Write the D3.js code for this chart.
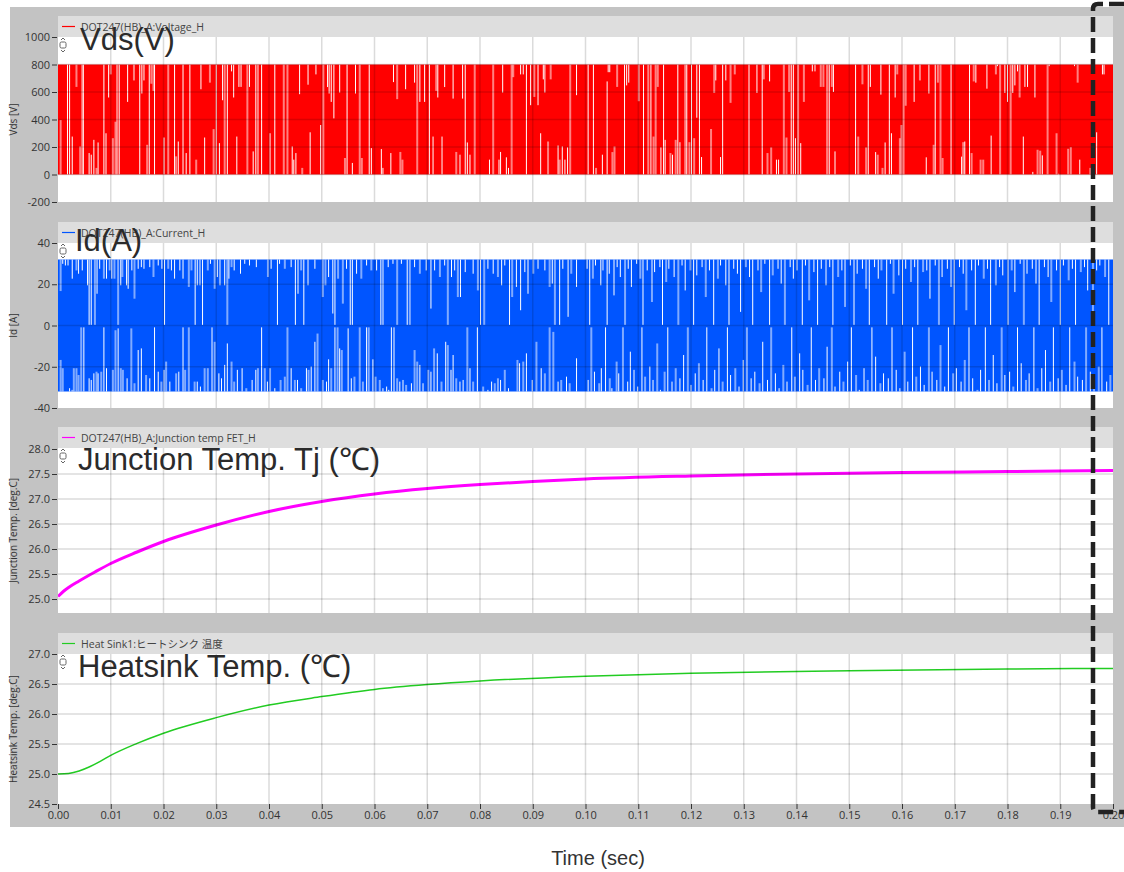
<!DOCTYPE html>
<html><head><meta charset="utf-8">
<script src="https://cdn.jsdelivr.net/npm/d3@7"></script>
<style>body{margin:0;background:#fff}svg{display:block}</style>
</head><body><svg id="c" width="1124" height="872"></svg>
<script>
// ---------------- DATA ----------------
const timeTicks = [0,0.01,0.02,0.03,0.04,0.05,0.06,0.07,0.08,0.09,0.10,0.11,0.12,0.13,0.14,0.15,0.16,0.17,0.18,0.19,0.20];
const vdsTicks = [-200,0,200,400,600,800,1000];
const idTicks = [-40,-20,0,20,40];
const tjTicks = [25.0,25.5,26.0,26.5,27.0,27.5,28.0];
const hsTicks = [24.5,25.0,25.5,26.0,26.5,27.0];

const vdsLevels = [0, 800];      // off / on voltage
const idLevels = [-32, 32];      // negative / positive current peak

// switching gaps: [time, low, high, faint]
const vdsGaps = [
[0.0005,0,396,1],[0.0018,0,800,0],[0.0022,0,800,0],[0.0027,0,276,0],[0.0035,637,800,1],[0.0042,0,204,1],[0.0046,0,800,1],[0.0048,0,800,0],
[0.0059,0,156,0],[0.0063,0,144,0],[0.0068,0,252,0],[0.0073,0,48,1],[0.0076,0,233,0],[0.0087,0,800,0],[0.0091,0,300,0],[0.0096,560,800,0],
[0.0100,728,800,1],[0.0104,0,264,1],[0.0109,0,384,1],[0.0112,0,800,1],[0.0116,0,800,0],[0.0132,528,800,0],[0.0144,684,800,1],[0.0155,0,800,0],
[0.0159,589,800,0],[0.0163,684,800,0],[0.0169,0,216,1],[0.0173,0,800,0],[0.0177,660,800,1],[0.0181,608,800,1],[0.0183,0,800,0],[0.0201,0,269,0],
[0.0209,0,800,1],[0.0221,0,800,0],[0.0224,0,132,1],[0.0228,0,240,0],[0.0237,0,800,0],[0.0243,0,156,0],[0.0250,0,800,0],[0.0262,0,108,1],
[0.0271,620,800,0],[0.0278,0,269,0],[0.0288,668,800,1],[0.0295,0,330,1],[0.0300,0,800,0],[0.0306,0,228,0],[0.0312,540,800,0],[0.0316,0,800,1],
[0.0321,0,800,0],[0.0329,750,800,0],[0.0333,560,800,0],[0.0339,0,276,0],[0.0343,637,800,0],[0.0347,637,800,0],[0.0359,0,800,1],[0.0363,637,800,0],
[0.0370,0,168,0],[0.0375,0,800,0],[0.0379,0,800,1],[0.0386,0,800,0],[0.0402,0,300,0],[0.0411,0,800,0],[0.0428,0,800,1],[0.0435,0,800,1],
[0.0444,0,204,0],[0.0447,0,108,0],[0.0451,0,156,0],[0.0458,584,800,0],[0.0463,0,48,1],[0.0474,653,800,0],[0.0478,0,307,0],[0.0489,728,800,0],
[0.0498,0,360,0],[0.0503,0,800,1],[0.0511,636,800,0],[0.0514,589,800,0],[0.0518,528,800,0],[0.0523,408,800,0],[0.0534,596,800,0],[0.0544,0,120,1],
[0.0548,0,800,0],[0.0558,0,84,0],[0.0564,589,800,0],[0.0572,0,800,1],[0.0576,0,120,1],[0.0590,0,800,0],[0.0594,0,192,0],[0.0613,0,185,0],
[0.0616,0,48,0],[0.0631,0,156,0],[0.0636,672,800,0],[0.0643,548,800,1],[0.0649,0,164,1],[0.0653,0,108,1],[0.0659,620,800,0],[0.0676,668,800,0],
[0.0681,0,800,1],[0.0686,528,800,0],[0.0695,528,800,0],[0.0704,0,800,0],[0.0711,0,276,0],[0.0717,608,800,1],[0.0720,560,800,0],[0.0728,0,276,0],
[0.0733,636,800,0],[0.0749,552,800,0],[0.0755,0,164,1],[0.0762,0,144,1],[0.0767,552,800,0],[0.0772,0,800,0],[0.0776,0,233,0],[0.0781,0,144,0],
[0.0790,0,800,1],[0.0818,0,108,0],[0.0825,0,800,1],[0.0836,0,108,0],[0.0839,0,164,0],[0.0843,596,800,0],[0.0850,0,125,0],[0.0854,0,48,0],
[0.0860,0,800,1],[0.0863,708,800,1],[0.0877,728,800,0],[0.0882,728,800,0],[0.0888,0,800,0],[0.0896,504,800,0],[0.0903,564,800,1],[0.0910,504,800,0],
[0.0915,0,300,0],[0.0920,692,800,0],[0.0923,596,800,0],[0.0929,0,240,1],[0.0934,692,800,1],[0.0948,0,211,0],[0.0951,0,108,1],[0.0956,0,204,0],
[0.0961,0,108,0],[0.0966,0,197,0],[0.0971,0,800,1],[0.0983,577,800,0],
[0.1005,0,800,0],[0.1015,0,800,0],[0.1020,0,48,1],[0.1032,0,144,0],[0.1041,0,677,0],[0.1043,744,800,0],[0.1046,744,800,0],[0.1051,0,163,1],
[0.1055,0,204,1],[0.1060,637,800,1],[0.1074,0,800,0],[0.1078,648,800,0],[0.1082,668,800,0],[0.1101,533,800,1],[0.1110,0,800,0],[0.1119,0,800,1],
[0.1124,0,800,0],[0.1129,0,276,1],[0.1133,0,800,1],[0.1137,637,800,1],[0.1143,0,197,0],[0.1148,0,800,0],[0.1151,0,252,0],[0.1161,0,156,1],
[0.1165,0,144,0],[0.1171,0,252,1],[0.1175,0,800,0],[0.1179,0,235,0],[0.1189,0,800,1],[0.1192,0,800,0],[0.1197,0,235,1],[0.1201,0,800,0],
[0.1206,0,264,1],[0.1211,413,800,0],[0.1216,0,800,0],[0.1220,0,127,0],[0.1238,0,331,1],[0.1244,593,800,1],[0.1247,684,800,0],[0.1256,0,127,0],
[0.1260,0,800,0],[0.1266,684,800,0],[0.1275,521,800,1],[0.1283,728,800,1],[0.1310,0,800,1],[0.1325,593,800,0],[0.1335,0,800,0],[0.1338,692,800,1],
[0.1345,0,156,1],[0.1349,677,800,0],[0.1352,0,197,1],[0.1362,0,108,0],[0.1366,0,108,0],[0.1376,0,800,1],[0.1381,0,269,1],[0.1386,600,800,1],
[0.1390,0,800,0],[0.1394,0,800,0],[0.1398,0,264,0],[0.1403,0,800,1],[0.1408,0,228,0],[0.1414,528,800,1],[0.1430,750,800,0],[0.1435,750,800,1],
[0.1446,637,800,1],[0.1451,637,800,1],[0.1458,0,800,1],[0.1462,0,800,0],[0.1467,637,800,1],[0.1470,600,800,0],[0.1473,0,168,0],[0.1512,0,800,0],
[0.1517,0,276,1],[0.1525,656,800,1],[0.1532,0,197,1],[0.1536,0,800,0],[0.1540,637,800,0],[0.1550,0,163,0],[0.1554,0,144,1],[0.1560,581,800,0],
[0.1563,0,48,1],[0.1568,0,233,0],[0.1576,0,800,0],[0.1580,0,300,0],[0.1587,560,800,0],[0.1591,728,800,1],[0.1596,0,264,1],[0.1599,0,360,1],
[0.1603,0,800,1],[0.1607,500,800,1],[0.1623,528,800,0],[0.1634,684,800,1],[0.1646,0,125,0],[0.1651,589,800,0],[0.1660,0,216,1],[0.1663,0,800,0],
[0.1668,668,800,1],[0.1673,0,800,1],[0.1677,0,120,1],[0.1693,0,800,0],[0.1713,0,130,0],[0.1716,0,235,1],[0.1719,0,240,0],[0.1728,0,800,0],
[0.1732,0,156,1],[0.1736,677,800,1],[0.1740,668,800,0],[0.1749,0,108,1],[0.1754,0,108,1],[0.1761,624,800,0],[0.1769,0,283,0],[0.1778,728,800,1],
[0.1781,788,800,0],[0.1786,0,800,1],[0.1795,593,800,0],[0.1800,528,800,0],[0.1806,0,800,1],[0.1810,593,800,0],[0.1814,648,800,0],[0.1819,750,800,0],
[0.1823,560,800,1],[0.1830,0,276,0],[0.1833,637,800,0],[0.1838,637,800,0],[0.1848,0,19,0],[0.1852,560,800,0],[0.1857,0,180,1],[0.1862,0,173,1],
[0.1866,0,139,0],[0.1876,0,800,1],[0.1879,788,800,0],[0.1893,0,300,1],[0.1897,0,5,0],[0.1915,0,187,1],[0.1920,0,199,1],[0.1927,788,800,0],
[0.1933,668,800,1],[0.1937,0,108,0],[0.1957,0,48,1],[0.1969,0,307,0],[0.1980,728,800,0],[0.1983,728,800,0]
];

const idGaps = [
[0.0005,16.7,32,1],[0.0009,29.9,32,0],[0.0014,29.1,32,0],[0.0019,29.1,32,0],[0.0027,22.7,32,0],[0.0035,26.7,32,1],[0.0039,25.1,32,0],[0.0046,26.7,32,0],
[0.0056,19.5,32,0],[0.0059,0.3,32,0],[0.0063,0.3,32,0],[0.0070,0.3,32,1],[0.0074,15.4,32,0],[0.0079,27.5,32,0],[0.0087,22.7,32,1],[0.0092,22.7,32,0],
[0.0098,26.7,32,1],[0.0102,22.7,32,0],[0.0107,22.7,32,1],[0.0114,0.3,32,1],[0.0119,19.5,32,0],[0.0122,23.5,32,1],[0.0130,19.5,32,0],[0.0133,17.8,32,0],
[0.0140,26.7,32,0],[0.0145,13.0,32,1],[0.0152,27.5,32,0],[0.0158,28.3,32,0],[0.0163,27.5,32,0],[0.0174,28.3,32,0],[0.0181,23.5,32,1],[0.0190,29.1,32,0],
[0.0197,27.5,32,0],[0.0202,0.3,32,0],[0.0209,27.5,32,1],[0.0215,26.7,32,0],[0.0221,22.7,32,0],[0.0231,26.7,32,0],[0.0237,22.7,32,0],[0.0248,18.7,32,1],
[0.0253,26.7,32,1],[0.0260,0.3,32,0],[0.0264,19.5,32,0],[0.0269,19.5,32,1],[0.0274,0.3,32,0],[0.0284,26.7,32,1],[0.0289,29.9,32,0],[0.0297,17.8,32,1],
[0.0302,23.5,32,0],[0.0307,19.5,32,1],[0.0316,19.5,32,0],[0.0321,0.3,32,1],[0.0324,22.7,32,0],[0.0329,28.3,32,1],[0.0334,26.7,32,0],[0.0346,25.1,32,0],
[0.0354,29.9,32,0],[0.0363,29.1,32,0],[0.0376,28.3,32,0],[0.0398,23.5,32,1],[0.0404,27.5,32,0],[0.0416,0.3,32,0],[0.0420,29.9,32,0],[0.0430,27.5,32,1],
[0.0442,28.3,32,0],[0.0450,0.3,32,0],[0.0455,15.4,32,0],[0.0461,26.7,32,1],[0.0466,0.3,32,0],[0.0474,19.5,32,1],[0.0487,27.5,32,0],[0.0502,13.8,32,1],
[0.0507,19.5,32,1],[0.0513,23.5,32,0],[0.0521,5.8,32,0],[0.0525,0.3,32,0],[0.0531,22.7,32,1],[0.0540,10.6,32,1],[0.0547,27.5,32,0],[0.0554,0.3,32,0],
[0.0558,0.3,32,0],[0.0566,25.1,32,0],[0.0575,22.7,32,1],[0.0585,29.1,32,0],[0.0594,26.7,32,1],[0.0604,26.7,32,0],[0.0612,0.3,32,0],[0.0616,0.3,32,1],
[0.0626,28.3,32,0],[0.0635,29.9,32,0],[0.0643,0.3,32,1],[0.0651,29.9,32,0],[0.0662,0.3,32,0],[0.0667,0.3,32,1],[0.0676,28.3,32,0],[0.0686,25.1,32,1],
[0.0698,26.7,32,0],[0.0707,8.2,32,0],[0.0714,26.7,32,0],[0.0724,23.5,32,1],[0.0733,29.1,32,0],[0.0739,0.3,32,1],[0.0746,23.5,32,0],[0.0752,26.7,32,0],
[0.0758,13.8,32,1],[0.0763,13.8,32,0],[0.0772,25.9,32,0],[0.0787,25.1,32,0],[0.0796,17.0,32,1],[0.0801,0.3,32,0],[0.0808,0.3,32,1],[0.0815,27.5,32,0],
[0.0825,25.1,32,0],[0.0834,23.5,32,1],[0.0841,19.5,32,0],[0.0847,29.1,32,0],[0.0856,0.3,32,0],[0.0861,13.8,32,1],[0.0869,18.7,32,0],[0.0877,7.4,32,0],
[0.0885,25.9,32,0],[0.0891,15.4,32,1],[0.0901,25.1,32,1],[0.0910,27.5,32,0],[0.0923,26.7,32,0],[0.0932,18.7,32,1],[0.0937,20.3,32,0],[0.0942,0.3,32,1],
[0.0951,0.3,32,0],[0.0957,27.5,32,0],[0.0967,4.2,32,0],[0.0973,25.1,32,1],[0.0983,18.7,32,0],
[0.1003,27.5,32,0],[0.1008,0.3,32,0],[0.1014,22.7,32,1],[0.1019,29.1,32,0],[0.1029,19.5,32,0],[0.1033,26.7,32,1],[0.1041,0.3,32,0],[0.1045,25.1,32,0],
[0.1054,14.6,32,1],[0.1060,28.3,32,0],[0.1066,23.5,32,0],[0.1075,0.3,32,1],[0.1081,27.5,32,0],[0.1087,18.7,32,0],[0.1097,29.9,32,0],[0.1104,22.7,32,1],
[0.1109,0.3,32,0],[0.1117,26.7,32,0],[0.1126,11.4,32,1],[0.1131,25.9,32,0],[0.1141,28.3,32,0],[0.1146,0.3,32,0],[0.1153,21.1,32,1],[0.1158,27.5,32,0],
[0.1168,23.5,32,0],[0.1176,0.3,32,1],[0.1183,29.1,32,0],[0.1189,17.0,32,0],[0.1199,26.7,32,1],[0.1205,0.3,32,0],[0.1211,24.3,32,0],[0.1221,28.3,32,0],
[0.1228,13.8,32,1],[0.1235,26.7,32,0],[0.1243,0.3,32,0],[0.1251,22.7,32,1],[0.1256,29.1,32,0],[0.1266,19.5,32,0],[0.1272,0.3,32,1],[0.1281,27.5,32,0],
[0.1288,25.1,32,0],[0.1294,6.6,32,0],[0.1304,28.3,32,1],[0.1311,23.5,32,0],[0.1317,0.3,32,0],[0.1327,26.7,32,0],[0.1333,16.2,32,1],[0.1340,29.9,32,0],
[0.1349,0.3,32,0],[0.1355,24.3,32,1],[0.1365,27.5,32,0],[0.1371,20.3,32,0],[0.1378,0.3,32,1],[0.1388,28.3,32,0],[0.1394,22.7,32,0],[0.1401,26.7,32,1],
[0.1411,0.3,32,0],[0.1417,29.1,32,0],[0.1424,12.2,32,1],[0.1433,25.9,32,0],[0.1440,0.3,32,0],[0.1447,27.5,32,0],[0.1456,19.5,32,1],[0.1463,28.3,32,0],
[0.1469,0.3,32,0],[0.1479,23.5,32,1],[0.1486,26.7,32,0],[0.1492,9.0,32,0],[0.1502,29.1,32,0],[0.1509,0.3,32,1],[0.1515,25.1,32,0],[0.1525,27.5,32,0],
[0.1532,17.8,32,1],[0.1538,0.3,32,0],[0.1548,28.3,32,0],[0.1555,22.7,32,0],[0.1561,26.7,32,1],[0.1571,0.3,32,0],[0.1578,29.9,32,0],[0.1584,15.4,32,1],
[0.1594,24.3,32,0],[0.1601,0.3,32,0],[0.1607,27.5,32,0],[0.1617,21.1,32,1],[0.1624,28.3,32,0],[0.1630,0.3,32,0],[0.1640,25.9,32,1],[0.1647,26.7,32,0],
[0.1653,13.0,32,0],[0.1663,29.1,32,0],[0.1670,0.3,32,1],[0.1676,23.5,32,0],[0.1686,27.5,32,0],[0.1693,18.7,32,1],[0.1699,0.3,32,0],[0.1709,28.3,32,0],
[0.1716,25.1,32,0],[0.1722,7.4,32,1],[0.1732,26.7,32,0],[0.1739,0.3,32,0],[0.1745,29.1,32,0],[0.1755,22.7,32,1],[0.1762,27.5,32,0],[0.1768,0.3,32,0],
[0.1778,19.5,32,1],[0.1785,28.3,32,0],[0.1791,24.3,32,0],[0.1801,0.3,32,0],[0.1808,26.7,32,1],[0.1814,16.2,32,0],[0.1824,29.9,32,0],[0.1831,0.3,32,1],
[0.1837,25.1,32,0],[0.1847,27.5,32,0],[0.1854,20.3,32,1],[0.1860,0.3,32,0],[0.1870,28.3,32,0],[0.1877,23.5,32,0],[0.1883,11.4,32,1],[0.1893,26.7,32,0],
[0.1900,0.3,32,0],[0.1906,29.1,32,0],[0.1916,21.9,32,1],[0.1923,27.5,32,0],[0.1929,0.3,32,0],[0.1939,25.9,32,1],[0.1946,28.3,32,0],[0.1952,17.0,32,0],
[0.1962,0.3,32,1],[0.1969,26.7,32,0],[0.1975,29.1,32,0],[0.1985,23.5,32,1],[0.1992,0.3,32,0],
[0.0005,-32,-16.7,1],[0.0009,-32,-20.7,1],[0.0022,-32,-30.4,0],[0.0027,-32,-31.2,1],[0.0030,-32,-20.7,1],[0.0035,-32,-20.7,1],[0.0039,-32,-24.0,1],[0.0044,-32,-0.9,1],
[0.0049,-32,-0.9,0],[0.0059,-32,-25.6,0],[0.0063,-32,-26.4,0],[0.0068,-32,-23.2,0],[0.0073,-32,-22.4,1],[0.0076,-32,-23.2,0],[0.0082,-32,-22.4,1],[0.0087,-32,-0.9,0],
[0.0092,-32,-20.7,0],[0.0104,-32,-21.5,1],[0.0109,-32,-2.3,1],[0.0114,-32,-1.4,0],[0.0119,-32,-20.7,1],[0.0123,-32,-21.5,1],[0.0131,-32,-25.6,0],[0.0139,-32,-1.4,1],
[0.0145,-32,-28.0,1],[0.0152,-32,-11.9,0],[0.0158,-32,-11.1,0],[0.0167,-32,-24.0,1],[0.0174,-32,-25.6,0],[0.0183,-32,-0.9,0],[0.0190,-32,-22.4,0],[0.0196,-32,-27.2,1],
[0.0201,-32,-21.5,0],[0.0205,-32,-17.5,1],[0.0212,-32,-27.2,0],[0.0224,-32,-23.2,1],[0.0229,-32,-22.4,0],[0.0237,-32,-0.9,0],[0.0241,-32,-21.5,1],[0.0248,-32,-0.9,1],
[0.0259,-32,-27.2,1],[0.0264,-32,-27.2,0],[0.0270,-32,-29.6,0],[0.0278,-32,-20.7,1],[0.0284,-32,-20.7,1],[0.0292,-32,-0.9,1],[0.0297,-32,-7.9,1],[0.0305,-32,-23.2,0],
[0.0310,-32,-25.6,0],[0.0316,-32,-19.1,0],[0.0321,-32,-8.7,0],[0.0329,-32,-17.5,1],[0.0334,-32,-27.2,1],[0.0340,-32,-21.5,0],[0.0349,-32,-20.7,0],[0.0357,-32,-30.4,1],
[0.0368,-32,-26.4,0],[0.0375,-32,-21.5,0],[0.0379,-32,-20.7,1],[0.0386,-32,-0.9,0],[0.0392,-32,-20.7,1],[0.0397,-32,-27.2,0],[0.0402,-32,-20.7,1],[0.0411,-32,-30.4,0],
[0.0422,-32,-26.4,1],[0.0430,-32,-24.8,1],[0.0435,-32,-0.9,1],[0.0442,-32,-20.7,0],[0.0449,-32,-26.4,1],[0.0454,-32,-26.4,0],[0.0461,-32,-30.4,1],[0.0471,-32,-20.7,0],
[0.0475,-32,-21.5,1],[0.0480,-32,-19.9,0],[0.0487,-32,-7.9,0],[0.0492,-32,-3.9,1],[0.0502,-32,-26.4,1],[0.0509,-32,-27.2,0],[0.0513,-32,-16.4,0],[0.0518,-32,-20.7,1],
[0.0525,-32,-0.9,0],[0.0530,-32,-0.9,1],[0.0534,-32,-11.1,0],[0.0538,-32,-11.9,1],[0.0550,-32,-1.4,0],[0.0556,-32,-25.6,0],[0.0562,-32,-24.8,1],[0.0572,-32,-0.9,1],
[0.0578,-32,-27.2,1],[0.0585,-32,-0.9,0],[0.0589,-32,-0.9,1],[0.0597,-32,-16.4,0],[0.0602,-32,-24.8,1],[0.0610,-32,-26.4,1],[0.0616,-32,-30.4,0],[0.0623,-32,-29.6,0],
[0.0627,-32,-31.2,0],[0.0632,-32,-0.9,0],[0.0637,-32,-0.9,1],[0.0643,-32,-25.6,1],[0.0648,-32,-27.2,0],[0.0654,-32,-26.4,1],[0.0660,-32,-28.8,1],[0.0670,-32,-28.0,0],
[0.0676,-32,-11.9,1],[0.0681,-32,-17.5,1],[0.0686,-32,-19.1,0],[0.0692,-32,-28.0,0],[0.0702,-32,-21.5,1],[0.0707,-32,-22.4,0],[0.0713,-32,-11.1,1],[0.0719,-32,-13.5,0],
[0.0727,-32,-27.2,1],[0.0735,-32,-7.9,0],[0.0739,-32,-9.5,1],[0.0745,-32,-21.5,1],[0.0749,-32,-14.3,0],[0.0755,-32,-25.6,1],[0.0762,-32,-27.2,0],[0.0768,-32,-26.4,0],
[0.0776,-32,-0.9,1],[0.0781,-32,-20.7,0],[0.0787,-32,-27.2,1],[0.0795,-32,-0.9,0],[0.0806,-32,-29.6,1],[0.0815,-32,-31.2,0],[0.0822,-32,-27.2,0],[0.0828,-32,-28.0,1],
[0.0834,-32,-25.6,1],[0.0839,-32,-26.4,0],[0.0847,-32,-21.5,1],[0.0854,-32,-30.4,0],[0.0871,-32,-16.7,1],[0.0875,-32,-18.3,0],[0.0882,-32,-17.5,1],[0.0888,-32,-13.5,0],
[0.0899,-32,-26.4,0],[0.0907,-32,-7.9,1],[0.0916,-32,-20.7,0],[0.0923,-32,-23.2,1],[0.0932,-32,-0.9,1],[0.0939,-32,-3.1,1],[0.0948,-32,-27.2,0],[0.0954,-32,-26.4,1],
[0.0964,-32,-24.8,0],[0.0970,-32,-28.0,1],[0.0983,-32,-15.9,0],
[0.1005,-32,-26.4,0],[0.1011,-32,-0.9,1],[0.1017,-32,-22.4,0],[0.1026,-32,-28.0,1],[0.1030,-32,-20.7,0],[0.1038,-32,-0.9,0],[0.1046,-32,-25.6,1],[0.1050,-32,-30.4,0],
[0.1059,-32,-17.5,1],[0.1063,-32,-23.2,0],[0.1071,-32,-0.9,1],[0.1080,-32,-27.2,0],[0.1085,-32,-12.7,0],[0.1092,-32,-21.5,1],[0.1099,-32,-29.6,0],[0.1107,-32,-0.9,0],
[0.1113,-32,-24.8,1],[0.1122,-32,-19.9,0],[0.1128,-32,-26.4,0],[0.1136,-32,-8.7,1],[0.1142,-32,-31.2,0],[0.1150,-32,-22.4,1],[0.1156,-32,-0.9,0],[0.1164,-32,-27.2,0],
[0.1171,-32,-20.7,1],[0.1179,-32,-25.6,0],[0.1186,-32,-14.3,0],[0.1194,-32,-0.9,1],[0.1200,-32,-28.8,0],[0.1208,-32,-23.2,0],[0.1215,-32,-18.3,1],[0.1223,-32,-26.4,0],
[0.1230,-32,-0.9,0],[0.1239,-32,-30.4,1],[0.1245,-32,-21.5,0],[0.1253,-32,-11.1,0],[0.1260,-32,-27.2,1],[0.1269,-32,-0.9,0],[0.1275,-32,-24.0,0],[0.1284,-32,-20.7,1],
[0.1291,-32,-29.6,0],[0.1299,-32,-16.7,0],[0.1306,-32,-0.9,1],[0.1314,-32,-25.6,0],[0.1321,-32,-22.4,0],[0.1330,-32,-28.0,1],[0.1336,-32,-7.9,0],[0.1345,-32,-26.4,0],
[0.1352,-32,-0.9,1],[0.1360,-32,-23.2,0],[0.1367,-32,-30.4,0],[0.1375,-32,-19.1,1],[0.1382,-32,-27.2,0],[0.1391,-32,-0.9,0],[0.1397,-32,-24.8,1],[0.1406,-32,-13.5,0],
[0.1412,-32,-21.5,0],[0.1421,-32,-28.8,1],[0.1428,-32,-0.9,0],[0.1436,-32,-26.4,0],[0.1443,-32,-20.7,1],[0.1452,-32,-25.6,0],[0.1458,-32,-10.3,0],[0.1467,-32,-0.9,1],
[0.1473,-32,-29.6,0],[0.1482,-32,-22.4,0],[0.1489,-32,-27.2,1],[0.1497,-32,-17.5,0],[0.1504,-32,-0.9,0],[0.1513,-32,-24.0,1],[0.1519,-32,-31.2,0],[0.1528,-32,-20.7,0],
[0.1535,-32,-26.4,1],[0.1543,-32,-0.9,0],[0.1550,-32,-15.1,0],[0.1559,-32,-28.0,1],[0.1565,-32,-23.2,0],[0.1574,-32,-25.6,0],[0.1581,-32,-0.9,1],[0.1589,-32,-21.5,0],
[0.1596,-32,-30.4,0],[0.1605,-32,-12.7,1],[0.1611,-32,-27.2,0],[0.1620,-32,-0.9,0],[0.1627,-32,-24.8,1],[0.1635,-32,-19.9,0],[0.1642,-32,-28.8,0],[0.1651,-32,-0.9,1],
[0.1657,-32,-22.4,0],[0.1666,-32,-26.4,0],[0.1673,-32,-9.5,1],[0.1681,-32,-29.6,0],[0.1688,-32,-0.9,0],[0.1697,-32,-23.2,1],[0.1703,-32,-20.7,0],[0.1712,-32,-27.2,0],
[0.1719,-32,-16.7,1],[0.1727,-32,-0.9,0],[0.1734,-32,-25.6,0],[0.1743,-32,-31.2,1],[0.1749,-32,-21.5,0],[0.1758,-32,-0.9,0],[0.1765,-32,-26.4,1],[0.1773,-32,-14.3,0],
[0.1780,-32,-28.0,0],[0.1789,-32,-0.9,1],[0.1795,-32,-24.0,0],[0.1804,-32,-22.4,0],[0.1811,-32,-29.6,1],[0.1819,-32,-0.9,0],[0.1826,-32,-18.3,0],[0.1835,-32,-26.4,1],
[0.1841,-32,-23.2,0],[0.1850,-32,-0.9,0],[0.1857,-32,-30.4,1],[0.1865,-32,-20.7,0],[0.1872,-32,-11.9,0],[0.1881,-32,-27.2,1],[0.1887,-32,-0.9,0],[0.1896,-32,-25.6,0],
[0.1903,-32,-21.5,1],[0.1911,-32,-28.8,0],[0.1918,-32,-0.9,0],[0.1927,-32,-17.5,1],[0.1933,-32,-24.8,0],[0.1942,-32,-26.4,0],[0.1949,-32,-0.9,1],[0.1957,-32,-22.4,0],
[0.1964,-32,-29.6,0],[0.1973,-32,-19.9,1],[0.1979,-32,-0.9,0],[0.1988,-32,-27.2,0],[0.1995,-32,-24.0,1]
];

const tjTime = [0,0.001,0.002,0.004,0.007,0.01,0.015,0.02,0.03,0.04,0.05,0.06,0.07,0.08,0.09,0.10,0.12,0.14,0.16,0.18,0.20];
const tjVals = [25.05,25.15,25.23,25.36,25.54,25.71,25.94,26.15,26.48,26.75,26.95,27.10,27.21,27.29,27.35,27.40,27.46,27.50,27.53,27.55,27.57];
const hsTime = [0,0.002,0.004,0.006,0.008,0.01,0.015,0.02,0.03,0.04,0.05,0.06,0.07,0.08,0.10,0.12,0.15,0.18,0.20];
const hsVals = [25.0,25.01,25.05,25.12,25.21,25.31,25.51,25.68,25.94,26.15,26.29,26.41,26.49,26.55,26.63,26.68,26.72,26.75,26.76];

const legends = ["DOT247(HB)_A:Voltage_H","DOT247(HB)_A:Current_H","DOT247(HB)_A:Junction temp FET_H","Heat Sink1:ヒートシンク 温度"];
const overlayTitles = ["Vds(V)","Id(A)","Junction Temp. Tj (℃)","Heatsink Temp. (℃)"];
const axisTitles = ["Vds [V]","Id [A]","Junction Temp. [deg.C]","Heatsink Temp. [deg.C]"];
const xTitle = "Time (sec)";

// ---------------- LAYOUT ----------------
const svg = d3.select("#c");
const X0 = 58, X1 = 1113;
const x = d3.scaleLinear().domain([0,0.2]).range([X0,X1]);
const panels = [
  {head:[16,37], plot:[37,202], dom:[-200,1000], ticks:vdsTicks, fmt:d=>String(d), color:"#ff0000", title:[80,50]},
  {head:[222,243], plot:[243,408], dom:[-40,40], ticks:idTicks, fmt:d=>String(d), color:"#0055ff", title:[75,251]},
  {head:[427,448], plot:[448,613], dom:[24.72,28.02], ticks:tjTicks, fmt:d=>d.toFixed(1), color:"#ff00ff", title:[78,470]},
  {head:[633,654], plot:[654,804], dom:[24.5,27.0], ticks:hsTicks, fmt:d=>d.toFixed(1), color:"#22cc22", title:[78,677]}
];
const FONT = "'Open Sans','Noto Sans','Noto Sans CJK JP',sans-serif";

svg.append("rect").attr("x",10).attr("y",7).attr("width",1114).attr("height",820).attr("fill","#c3c3c3");

panels.forEach((p,i)=>{
  p.y = d3.scaleLinear().domain(p.dom).range([p.plot[1],p.plot[0]]);
  svg.append("rect").attr("x",X0).attr("y",p.head[0]).attr("width",X1-X0).attr("height",p.head[1]-p.head[0]).attr("fill","#dedede");
  svg.append("rect").attr("x",X0).attr("y",p.plot[0]).attr("width",X1-X0).attr("height",p.plot[1]-p.plot[0]).attr("fill","#ffffff");
  const clipId = "clip"+i;
  svg.append("clipPath").attr("id",clipId).append("rect").attr("x",X0).attr("y",p.plot[0]).attr("width",X1-X0).attr("height",p.plot[1]-p.plot[0]);
  p.g = svg.append("g").attr("clip-path",`url(#${clipId})`);
});

// switching bands
function band(p, levels, gaps){
  p.g.append("rect").attr("x",x(0)).attr("width",x(0.2)-x(0))
    .attr("y",p.y(levels[1])).attr("height",p.y(levels[0])-p.y(levels[1])).attr("fill",p.color);
  p.g.selectAll(null).data(gaps).join("line")
    .attr("x1",d=>x(d[0])).attr("x2",d=>x(d[0]))
    .attr("y1",d=>p.y(d[2])).attr("y2",d=>p.y(d[1]))
    .attr("stroke","#fff").attr("stroke-width",d=>d[3]?2:1).attr("stroke-opacity",d=>d[3]?0.5:1);
}
band(panels[0], vdsLevels, vdsGaps);
band(panels[1], idLevels, idGaps);

// temperature curves
const tj = tjTime.map((t,i)=>[t,tjVals[i]]);
const hs = hsTime.map((t,i)=>[t,hsVals[i]]);
panels[2].g.append("path").datum(tj).attr("fill","none").attr("stroke",panels[2].color).attr("stroke-width",3)
  .attr("d",d3.line().x(d=>x(d[0])).y(d=>panels[2].y(d[1])).curve(d3.curveMonotoneX));
panels[3].g.append("path").datum(hs).attr("fill","none").attr("stroke",panels[3].color).attr("stroke-width",1.5)
  .attr("d",d3.line().x(d=>x(d[0])).y(d=>panels[3].y(d[1])).curve(d3.curveMonotoneX));

// grid + axes + labels
panels.forEach((p,i)=>{
  const grid = svg.append("g").attr("stroke","#000").attr("stroke-opacity",0.14).attr("stroke-width",1.5);
  grid.selectAll(null).data(timeTicks.slice(1,-1)).join("line")
    .attr("x1",d=>x(d)).attr("x2",d=>x(d)).attr("y1",p.plot[0]).attr("y2",p.plot[1]);
  grid.selectAll(null).data(p.ticks.filter(v=>p.y(v)>p.plot[0]+1 && p.y(v)<p.plot[1]-1)).join("line")
    .attr("x1",X0).attr("x2",X1).attr("y1",d=>p.y(d)).attr("y2",d=>p.y(d));

  const ax = svg.append("g").attr("transform",`translate(${X0-1},0)`)
    .call(d3.axisLeft(p.y).tickValues(p.ticks).tickFormat(p.fmt).tickSize(5).tickPadding(2));
  ax.select(".domain").remove();
  ax.selectAll("line").attr("stroke","#333");
  ax.selectAll("text").attr("font-family",FONT).attr("font-size",11).attr("fill","#333");

  svg.append("text").attr("transform",`translate(17,${(p.plot[0]+p.plot[1])/2}) rotate(-90)`)
    .attr("text-anchor","middle").attr("font-family",FONT).attr("font-size",10).attr("fill","#333").text(axisTitles[i]);

  const hm = (p.head[0]+p.head[1])/2;
  svg.append("line").attr("x1",62).attr("x2",75).attr("y1",hm).attr("y2",hm).attr("stroke",p.color).attr("stroke-width",1.2);
  svg.append("text").attr("x",81).attr("y",hm+4).attr("font-family",FONT).attr("font-size",10.5).attr("fill","#444").text(legends[i]);

  // small scroll icon
  const iy = p.head[1]+8;
  const ic = svg.append("g").attr("fill","none").attr("stroke","#666").attr("stroke-width",1);
  ic.append("rect").attr("x",60).attr("y",iy-3).attr("width",6).attr("height",6).attr("rx",1.5);
  ic.append("path").attr("d",`M61,${iy-5} L63,${iy-7} L65,${iy-5}`);
  ic.append("path").attr("d",`M61,${iy+5} L63,${iy+7} L65,${iy+5}`);

  svg.append("text").attr("x",p.title[0]).attr("y",p.title[1]).attr("font-family","'Liberation Sans',Arial,sans-serif")
    .attr("font-size",31).attr("fill","#2b2b2b").text(overlayTitles[i]);
});

// x axis
const xa = svg.append("g").attr("transform",`translate(0,804)`)
  .call(d3.axisBottom(x).tickValues(timeTicks).tickFormat(d=>d.toFixed(2)).tickSize(5).tickPadding(2));
xa.select(".domain").remove();
xa.selectAll("line").attr("stroke","#333");
xa.selectAll("text").attr("font-family",FONT).attr("font-size",11).attr("fill","#333");

// clipped small title under axis
svg.append("clipPath").attr("id","tclip").append("rect").attr("x",0).attr("y",0).attr("width",1124).attr("height",827);
svg.append("text").attr("clip-path","url(#tclip)").attr("x",564).attr("y",835).attr("font-family",FONT).attr("font-size",11).attr("fill","#333").text("Time");

svg.append("text").attr("x",598).attr("y",865).attr("text-anchor","middle").attr("font-family","'Liberation Sans',Arial,sans-serif")
  .attr("font-size",20).attr("fill","#333").text(xTitle);

// dashed highlight frame
svg.append("path").attr("d","M1124,4 H1098 Q1093,4 1093,9 V807 Q1093,812 1098,812 H1124")
  .attr("fill","none").attr("stroke","#222").attr("stroke-width",4.5).attr("stroke-dasharray","15,6");
</script></body></html>
